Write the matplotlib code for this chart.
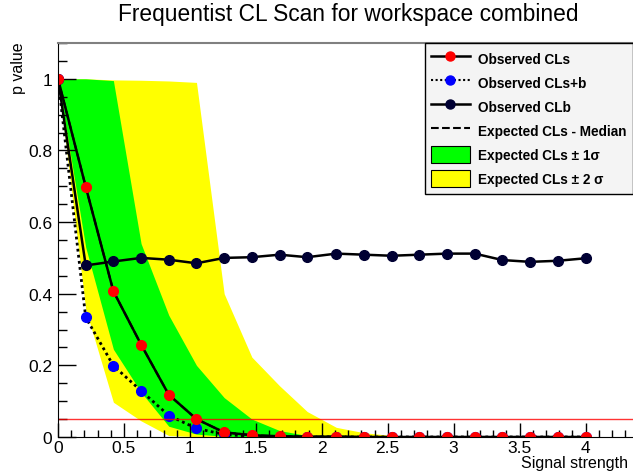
import matplotlib
matplotlib.use("Agg")
import matplotlib.pyplot as plt
from matplotlib.lines import Line2D
from matplotlib.patches import Patch
from matplotlib.ticker import MultipleLocator

plt.rcParams['font.family'] = ['Liberation Sans', 'DejaVu Sans']

# scan points (signal strength)
mu = [0.0, 0.21, 0.42, 0.63, 0.84, 1.05, 1.26, 1.47, 1.68, 1.89,
      2.11, 2.32, 2.53, 2.74, 2.95, 3.16, 3.37, 3.58, 3.79, 4.0]

cls_obs = [1.0, 0.699, 0.407, 0.258, 0.118, 0.05, 0.013, 0.005, 0.002, 0.001,
           0.001, 0.0, 0.0, 0.0, 0.0, 0.0, 0.0, 0.0, 0.0, 0.0]
clsb_obs = [1.0, 0.334, 0.199, 0.129, 0.06, 0.024, 0.007, 0.002, 0.001, 0.0,
            0.0, 0.0, 0.0, 0.0, 0.0, 0.0, 0.0, 0.0, 0.0, 0.0]
clb_obs = [1.0, 0.479, 0.49, 0.50, 0.495, 0.485, 0.50, 0.502, 0.509, 0.502,
           0.512, 0.509, 0.506, 0.509, 0.512, 0.512, 0.494, 0.489, 0.492, 0.499]

# expected CLs (median hidden under observed)
exp_med = [1.0, 0.699, 0.407, 0.258, 0.118, 0.05, 0.013, 0.005, 0.002, 0.001,
           0.001, 0.0, 0.0, 0.0, 0.0, 0.0, 0.0, 0.0, 0.0, 0.0]
exp_1s_lo = [1.0, 0.53, 0.245, 0.125, 0.03, 0.008, 0.002, 0.0005, 0.0, 0.0,
             0.0, 0.0, 0.0, 0.0, 0.0, 0.0, 0.0, 0.0, 0.0, 0.0]
exp_1s_hi = [1.0, 1.0, 0.995, 0.54, 0.34, 0.20, 0.11, 0.05, 0.018, 0.004,
             0.001, 0.0, 0.0, 0.0, 0.0, 0.0, 0.0, 0.0, 0.0, 0.0]
exp_2s_lo = [1.0, 0.357, 0.097, 0.045, 0.004, 0.001, 0.0, 0.0, 0.0, 0.0,
             0.0, 0.0, 0.0, 0.0, 0.0, 0.0, 0.0, 0.0, 0.0, 0.0]
exp_2s_hi = [1.0, 1.0, 0.997, 0.996, 0.994, 0.99, 0.40, 0.223, 0.143, 0.071,
             0.027, 0.012, 0.004, 0.001, 0.0, 0.0, 0.0, 0.0, 0.0, 0.0]

cl_line = 0.05

fig = plt.figure(figsize=(6.33, 4.77), dpi=100)
ax = fig.add_axes([58/633, 39/477, 575/633, 394/477])

ax.fill_between(mu, exp_2s_lo, exp_2s_hi, color='#ffff00', lw=0)
ax.fill_between(mu, exp_1s_lo, exp_1s_hi, color='#00ff00', lw=0)
ax.plot(mu, exp_med, color='black', ls='--', lw=1.5)

navy = '#000033'
ax.plot(mu, clb_obs, color='black', lw=1.8, marker='o', ms=7,
        mfc=navy, mec=navy)
ax.plot(mu, clsb_obs, color='black', lw=2, ls=(0, (1, 1.2)), marker='o',
        ms=7, mfc='#0000ff', mec='#0000ff')
ax.plot(mu, cls_obs, color='black', lw=1.8, marker='o', ms=7,
        mfc='#ff0000', mec='#ff0000')
ax.axhline(cl_line, color='#ff0000', lw=1, alpha=0.8)

ax.set_xlim(0, 4.36)
ax.set_ylim(0, 1.1)

ax.xaxis.set_major_locator(MultipleLocator(0.5))
ax.xaxis.set_minor_locator(MultipleLocator(0.1))
ax.yaxis.set_major_locator(MultipleLocator(0.2))
ax.yaxis.set_minor_locator(MultipleLocator(0.05))
ax.set_xticks([0, 0.5, 1, 1.5, 2, 2.5, 3, 3.5, 4])
ax.set_xticklabels(['0', '0.5', '1', '1.5', '2', '2.5', '3', '3.5', '4'])
ax.set_yticks([0, 0.2, 0.4, 0.6, 0.8, 1.0])
ax.set_yticklabels(['0', '0.2', '0.4', '0.6', '0.8', '1'])

ax.tick_params(axis='x', which='major', direction='in', length=10, width=1,
               labelsize=12.5, pad=2)
ax.tick_params(axis='x', which='minor', direction='in', length=5, width=1)
ax.tick_params(axis='y', which='major', direction='in', length=13, width=1,
               labelsize=12.5, pad=4)
ax.tick_params(axis='y', which='minor', direction='in', length=6.5, width=1)

ax.spines['top'].set_color('#808080')
ax.spines['top'].set_linewidth(1.5)
ax.spines['right'].set_visible(False)

fig.text(348/633, 1 - 14/477, 'Frequentist CL Scan for workspace combined',
         ha='center', va='center', fontsize=16.4)
fig.text(18/633, 1 - 68/477, 'p value', rotation=90, ha='center', va='center',
         fontsize=11.5)
fig.text(628/633, 1 - 464/477, 'Signal strength', ha='right', va='center',
         fontsize=11.5)

handles = [
    Line2D([], [], color='black', lw=1.8, marker='o', ms=6.5, mfc='#ff0000',
           mec='#ff0000'),
    Line2D([], [], color='black', lw=1.5, ls=(0, (1, 1.2)), marker='o', ms=6.5,
           mfc='#0000ff', mec='#0000ff'),
    Line2D([], [], color='black', lw=1.8, marker='o', ms=6.5, mfc=navy,
           mec=navy),
    Line2D([], [], color='black', lw=1.5, ls='--'),
    Patch(facecolor='#00ff00', edgecolor='black', lw=0.8),
    Patch(facecolor='#ffff00', edgecolor='black', lw=0.8),
]
labels = ['Observed CLs', 'Observed CLs+b', 'Observed CLb',
          'Expected CLs - Median', 'Expected CLs ± 1σ', 'Expected CLs ± 2 σ']
leg = ax.legend(handles, labels, loc='upper right', bbox_to_anchor=(1.0, 1.0),
                prop={'weight': 'bold', 'size': 9.8}, frameon=True,
                fancybox=False, edgecolor='black', facecolor='#f4f4f4',
                framealpha=1, handlelength=2.8, handleheight=1.5,
                labelspacing=0.55, borderpad=0.5, handletextpad=0.6,
                borderaxespad=0.0)
leg.get_frame().set_linewidth(1)

fig.savefig('out.png', dpi=100)
